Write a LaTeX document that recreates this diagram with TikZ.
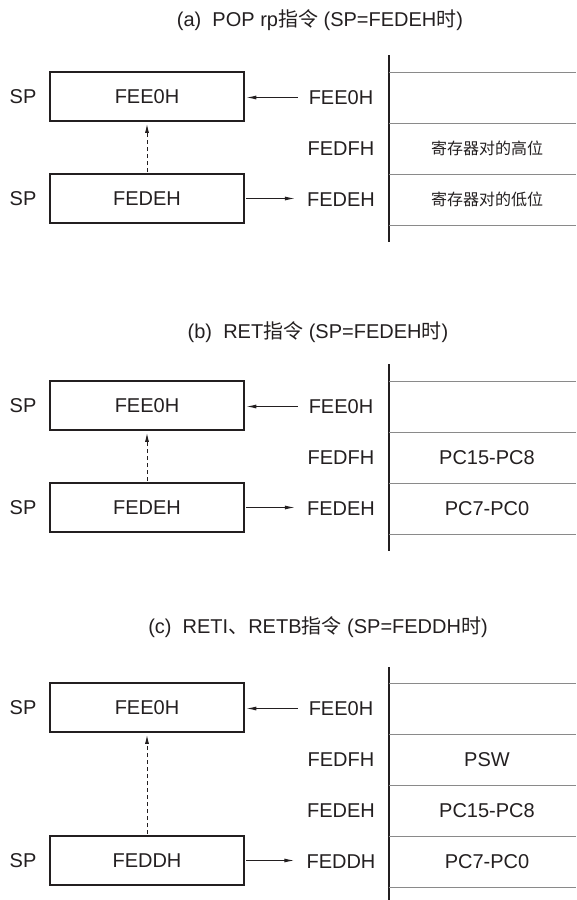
\documentclass[tikz,border=0pt]{standalone}
\usepackage{fontspec}
\setmainfont{Liberation Sans}
\newfontfamily\cjk{Noto Sans CJK SC}
\usetikzlibrary{arrows.meta}
\definecolor{ink}{HTML}{231F20}
\definecolor{rulegray}{HTML}{8A8A8A}
\begin{document}
\begin{tikzpicture}[x=1pt,y=-1pt,
  every node/.style={text=ink, font=\fontsize{20}{24}\selectfont, inner sep=0pt},
  regbox/.style={draw=ink, line width=1.6pt, minimum width=194pt, minimum height=49pt},
  cjkcell/.style={font=\fontsize{16}{19}\selectfont\cjk},
  arr/.style={draw=ink, line width=1pt, -{Latex[length=10pt,width=4pt]}},
  darr/.style={draw=ink, line width=1pt, dash pattern=on 4pt off 3pt, -{Latex[length=9pt,width=4pt]}},
  memline/.style={draw=rulegray, line width=1pt},
  memaxis/.style={draw=ink, line width=1.8pt}]
\useasboundingbox (0,0) rectangle (576,900);

% ---------- (a) ----------
\node (ta) at (320,20) {(a)\ \ POP rp{\cjk 指令} (SP=FEDEH{\cjk 时})};
\node[regbox] (a1) at (147,96.5) {FEE0H};
\node[regbox] (a2) at (147,198.5) {FEDEH};
\node (asp1) at (23,97) {SP};
\node (asp2) at (23,199) {SP};
\node (aL0) at (341,97.5) {FEE0H};
\node (aL1) at (341,148.5) {FEDFH};
\node (aL2) at (341,199.5) {FEDEH};
\draw[memaxis] (389,55) -- (389,242);
\foreach \y in {72,123,174,225} \draw[memline] (389,\y) -- (576,\y);
\node[cjkcell] (aC1) at (487,148.5) {寄存器对的高位};
\node[cjkcell] (aC2) at (487,199.5) {寄存器对的低位};
\draw[arr, shorten <=11pt, shorten >=1.5pt] (aL0.west) -- (aL0.west -| a1.east);
\draw[arr, shorten <=1.5pt, shorten >=12pt] (a2.east) -- (a2.east -| aL2.west);
\draw[darr, shorten <=1pt, shorten >=2pt] (a2.north) -- (a1.south);

% ---------- (b) ----------
\node (tb) at (318,332) {(b)\ \ RET{\cjk 指令} (SP=FEDEH{\cjk 时})};
\node[regbox] (b1) at (147,405.5) {FEE0H};
\node[regbox] (b2) at (147,507.5) {FEDEH};
\node (bsp1) at (23,406) {SP};
\node (bsp2) at (23,508) {SP};
\node (bL0) at (341,406.5) {FEE0H};
\node (bL1) at (341,457.5) {FEDFH};
\node (bL2) at (341,508.5) {FEDEH};
\draw[memaxis] (389,364) -- (389,551);
\foreach \y in {381,432,483,534} \draw[memline] (389,\y) -- (576,\y);
\node (bC1) at (487,457.5) {PC15-PC8};
\node (bC2) at (487,508.5) {PC7-PC0};
\draw[arr, shorten <=11pt, shorten >=1.5pt] (bL0.west) -- (bL0.west -| b1.east);
\draw[arr, shorten <=1.5pt, shorten >=12pt] (b2.east) -- (b2.east -| bL2.west);
\draw[darr, shorten <=1pt, shorten >=2pt] (b2.north) -- (b1.south);

% ---------- (c) ----------
\node (tc) at (318,627) {(c)\ \ RETI{\cjk 、}RETB{\cjk 指令} (SP=FEDDH{\cjk 时})};
\node[regbox] (c1) at (147,707.5) {FEE0H};
\node[regbox] (c2) at (147,860.5) {FEDDH};
\node (csp1) at (23,708) {SP};
\node (csp2) at (23,861) {SP};
\node (cL0) at (341,708.5) {FEE0H};
\node (cL1) at (341,759.5) {FEDFH};
\node (cL2) at (341,810.5) {FEDEH};
\node (cL3) at (341,861.5) {FEDDH};
\draw[memaxis] (389,667) -- (389,900);
\foreach \y in {683,734,785,836,887} \draw[memline] (389,\y) -- (576,\y);
\node (cC1) at (487,759.5) {PSW};
\node (cC2) at (487,810.5) {PC15-PC8};
\node (cC3) at (487,861.5) {PC7-PC0};
\draw[arr, shorten <=11pt, shorten >=1.5pt] (cL0.west) -- (cL0.west -| c1.east);
\draw[arr, shorten <=1.5pt, shorten >=12pt] (c2.east) -- (c2.east -| cL3.west);
\draw[darr, shorten <=1pt, shorten >=2pt] (c2.north) -- (c1.south);
\end{tikzpicture}
\end{document}
